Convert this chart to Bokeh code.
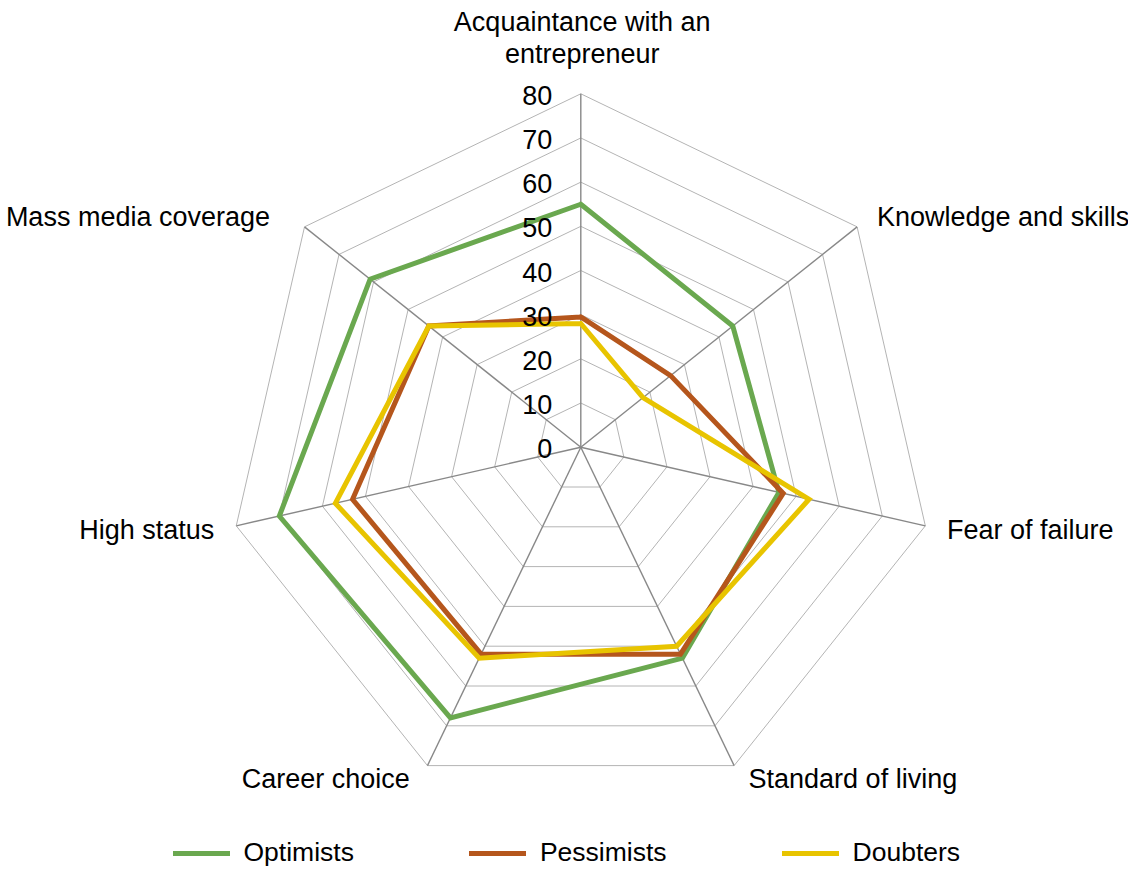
import math
from bokeh.plotting import figure
from bokeh.models import Range1d, Legend, LegendItem, ColumnDataSource
from bokeh.core.properties import value
from bokeh.embed import file_html
from bokeh.resources import INLINE

# ---------------- data ----------------
categories = ["Acquaintance with an entrepreneur", "Knowledge and skills", "Fear of failure",
              "Standard of living", "Career choice", "High status", "Mass media coverage"]
label_lines = [["Acquaintance with an", "entrepreneur"], ["Knowledge and skills"], ["Fear of failure"],
               ["Standard of living"], ["Career choice"], ["High status"], ["Mass media coverage"]]
series_names = ["Optimists", "Pessimists", "Doubters"]
optimists = [55, 44, 46, 53, 68, 70, 61]
pessimists = [29.5, 26, 47, 52, 52, 53, 44]
doubters = [28, 18, 53, 50, 53, 57, 44]
tick_values = [0, 10, 20, 30, 40, 50, 60, 70, 80]
tick_labels = ["0", "10", "20", "30", "40", "50", "60", "70", "80"]

# ---------------- layout / style ----------------
W, H = 1128, 868
PX = 4.4175              # pixels per value unit
CX, CY = 580.3, 446.7    # centre of the radar in figure pixels
RMAX = 80
FONT = "Liberation Sans"
FS = "27px"
SHIFT = -10.0            # vertical text correction in pixels (down positive)
colors = ["#6aa84f", "#b5561c", "#e8c400"]

p = figure(width=W, height=H, output_backend="svg", toolbar_location=None,
           x_range=Range1d(-CX / PX, (W - CX) / PX),
           y_range=Range1d(-(H - CY) / PX, CY / PX),
           x_axis_type=None, y_axis_type=None, min_border=0,
           outline_line_color=None, background_fill_color="white",
           border_fill_color="white")
p.grid.visible = False

n = len(categories)
angles = [2 * math.pi * i / n for i in range(n)]


def to_xy(vals):
    xs = [v * math.sin(a) for v, a in zip(vals, angles)]
    ys = [v * math.cos(a) for v, a in zip(vals, angles)]
    return xs + xs[:1], ys + ys[:1]


# rings
ring_xs, ring_ys = [], []
for t in tick_values[1:]:
    xs, ys = to_xy([t] * n)
    ring_xs.append(xs)
    ring_ys.append(ys)
p.multi_line(ring_xs, ring_ys, line_color="#b4b4b4", line_width=1)

# spokes
p.segment(x0=[0] * n, y0=[0] * n,
          x1=[RMAX * math.sin(a) for a in angles],
          y1=[RMAX * math.cos(a) for a in angles],
          line_color="#888888", line_width=1.4)

# series
renderers = []
for name, vals, col in zip(series_names, [optimists, pessimists, doubters], colors):
    xs, ys = to_xy(vals)
    r = p.line(xs, ys, line_color=col, line_width=5, line_join="miter", line_cap="round")
    renderers.append(r)

# tick labels on the vertical spoke
p.text(x=[-28.6 / PX] * len(tick_values),
       y=[t - (11.5 + SHIFT) / PX for t in tick_values],
       text=tick_labels, text_align="right", text_baseline="alphabetic",
       text_font=value(FONT), text_font_size=FS, text_color="#000000")

# category labels (pixel offsets from spoke end; x right, y down to baseline)
offsets = [[(1.4, -61.6), (1.4, -30.0)], [(19.9, 0.3)], [(21.7, 14.0)], [(14.4, 23.2)],
           [(-17.7, 23.2)], [(-22.0, 14.0)], [(-34.5, 0.3)]]
aligns = ["center", "left", "left", "left", "right", "right", "right"]
lx, ly, lt, la = [], [], [], []
for a, lines, offs, al in zip(angles, label_lines, offsets, aligns):
    ex, ey = RMAX * math.sin(a), RMAX * math.cos(a)
    for line, (dx, dy) in zip(lines, offs):
        lx.append(ex + dx / PX)
        ly.append(ey - (dy + SHIFT) / PX)
        lt.append(line)
        la.append(al)
src = ColumnDataSource(dict(x=lx, y=ly, text=lt, align=la))
p.text(x="x", y="y", text="text", text_align="align", text_baseline="alphabetic",
       text_font=value(FONT), text_font_size=FS, text_color="#000000", source=src)

# legend
legend = Legend(items=[LegendItem(label=nm, renderers=[r]) for nm, r in zip(series_names, renderers)],
                orientation="horizontal", location=(172.5, 0.0),
                glyph_width=57, glyph_height=30, label_height=30, label_standoff=14,
                spacing=115, padding=0, margin=0, border_line_color=None,
                background_fill_alpha=0, label_text_font=FONT, label_text_font_size="26.5px",
                label_text_color="#000000")
p.add_layout(legend, "center")

open("out.html", "w").write(file_html(p, INLINE))
